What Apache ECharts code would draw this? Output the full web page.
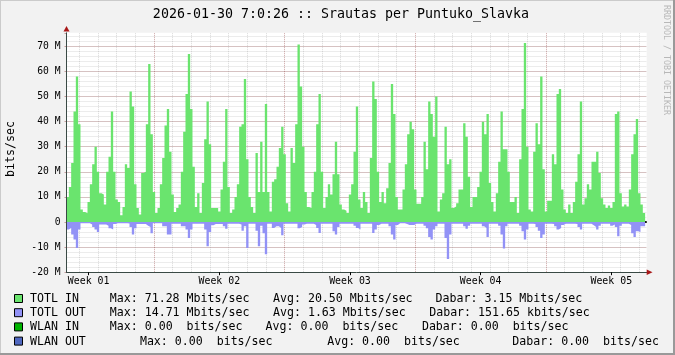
<!DOCTYPE html>
<html><head><meta charset="utf-8">
<script src="https://cdn.jsdelivr.net/npm/echarts@6/dist/echarts.min.js"></script>
<style>html,body{margin:0;padding:0;background:#f2f2f2}#c{width:675px;height:355px}</style>
</head><body><div id="c"></div>
<script>
// ---- data (Mbit/s), one value per 3-hour step from the left edge of the plot ----
const STEP_HOURS = 3;
const totlIn = [
 10,14,23.5,44,58,39,5,4, 3.5,8,15,23,30,20,11.5,11, 7,20,26,44,20,9,8,2.7, 6,23,21.5,52,46,15,5.6,3,
 19.5,20,39,63,35,12,3.6,5.6, 15,25.5,38.5,45,28,11,4,5.6, 7,20,36,51,67,45,22,6, 11.5,3.6,15.5,33,48,31,
 5.6,5.6,5.6,4.2,13,24,45,14, 3.6,5,10,15,38,39,57,25, 10,6,3.6,27.5,12,32,12,47, 12,4.2,16,17,22,29.5,38,27,
 7.5,4.2,29.5,23.5,39,70.7,54,30, 12,6,5.6,12,20,39,51,20, 5.6,10,15,11,19,32,19,7, 5,4.5,3.6,11,15,28,46,
 9,5.6,12,8,3.6,25.5,56,49, 20,8,12,7.5,13.5,23.5,55,43, 10,5,5,13,23,35,40,37, 13,7.3,7.3,10,32,21,48,43,
 34,50,4.2,9,11.5,38,23,25, 5.6,6.2,7.5,13,13,39.4,34,18, 6,10,10,14,20,40,35,43, 15.5,8,4.2,11.5,24,44,29,
 29,20,8,8,10,3.6,25,45, 71.3,30,5,4.2,28,39.4,31,58, 21,4.2,8.5,8.5,27,23,51,53, 13,5,3.6,7,3.6,8,16,27,
 48,7,9.5,15,13,24,24,28, 19.5,9.5,7,5.6,6.6,5.6,8,43, 44,11.5,6.2,7,6.2,13,27,35, 41,11.5,7,3.6
];
const totlOut = [
 3,2.4,5,7,10.4,3,0.5,0.5, 0.5,0.5,1,2,3,4,1,1, 1,1.5,2.5,3,0.8,0.5,0.5,0.5, 0.5,0.5,0.6,2,5,2.5,0.8,0.8,
 0.8,0.8,1.5,2,4.5,0.5,0.5,0.5, 0.5,1.7,1.7,5,5,0.7,0.7,0.7, 0.7,1.7,1.7,3,6.4,3,0.7,0.7, 0.7,0.7,0.7,3,9.7,4,
 1.3,0.8,0.8,0.8,0.8,1.7,2.7,0.7, 0.7,0.7,0.7,0.7,1,3.5,1.7,10.4, 0.7,0.7,0.7,3.5,9.7,1.5,4.5,12.8, 0.7,0.7,2.4,1.7,1.7,2.4,5.3,0.7,
 0.7,0.7,0.7,0.7,0.7,2.5,2,1, 0.7,0.7,0.7,0.7,1.2,2.4,4.4,0.7, 0.7,0.7,0.7,0.7,3.7,5,2,0.7, 0.7,0.7,0.7,0.7,0.7,1.5,2.4,
 3,0.7,0.7,0.7,0.7,0.7,4.4,3, 1.2,0.7,0.7,0.7,0.7,1.7,5,7, 1.2,0.5,0.5,0.5,0.8,1.2,1.2,1.2, 0.7,0.7,0.7,0.7,1.5,2.5,6,7,
 3,1.7,0.7,0.7,0.7,6.4,14.7,5, 0.7,0.7,0.7,0.7,0.7,1.7,2.7,1.5, 0.7,0.7,0.7,0.7,0.7,1.7,2.4,6, 0.7,0.7,0.7,0.7,1.5,5,10.6,
 1.7,0.7,0.7,0.7,0.7,0.7,1.5,3.7, 7,3,0.7,0.7,0.8,2,3.5,6.4, 5,0.7,0.7,0.7,0.8,1.7,3,2.4, 1.2,0.7,0.7,0.7,0.7,0.7,0.8,2,
 3,0.7,0.7,0.7,0.7,1.3,2,3, 1.5,0.7,0.7,0.7,0.7,1.5,1,2, 5.7,1.5,0.7,0.7,0.7,1.2,4.5,6, 3.7,4,1.7,1.7
];
const weekLabels = ['Week 01','Week 02','Week 03','Week 04','Week 05'];
const titleText = '2026-01-30 7:0:26 :: Srautas per Puntuko_Slavka';
const yAxisName = 'bits/sec';
const watermark = 'RRDTOOL / TOBI OETIKER';
const legendNames = ['TOTL IN','TOTL OUT','WLAN IN','WLAN OUT'];
const legendMax = ['Max: 71.28 Mbits/sec','Max: 14.71 Mbits/sec','Max: 0.00  bits/sec','Max: 0.00  bits/sec'];
const legendAvg = ['Avg: 20.50 Mbits/sec','Avg: 1.63 Mbits/sec','Avg: 0.00  bits/sec','Avg: 0.00  bits/sec'];
const legendNow = ['Dabar: 3.15 Mbits/sec','Dabar: 151.65 kbits/sec','Dabar: 0.00  bits/sec','Dabar: 0.00  bits/sec'];

// ---- layout / style ----
const COLORS = ['#6ae46e','#9292f6','#00b400','#5068c0'];
const GL = 66.5, GT = 32.8, GW = 580.2, GH = 239.4;
const Y_MIN = -20, Y_MAX = 75.4, X_MAX = 746;
const FIRST_MIDNIGHT = 16.46; // hours from plot start to first day line
const MONO = '"DejaVu Sans Mono", monospace';
const MINOR = 'rgba(140,140,140,0.33)';
const MAJOR = 'rgba(130,30,30,0.40)';
const AXIS = '#3a4a45';

const dayLines = [], weekLines = [];
for (let n = 0; FIRST_MIDNIGHT + 24 * n < X_MAX; n++) {
  const t = FIRST_MIDNIGHT + 24 * n;
  if (n >= 4 && (n - 4) % 7 === 0) weekLines.push(t); else dayLines.push(t);
}
const weekCenters = weekLabels.map((_, m) => FIRST_MIDNIGHT + 24 * (4 + 7 * m) - 84);

function stepData(vals, sign) {
  const d = vals.map((v, i) => [i * STEP_HOURS, sign * v]);
  d.push([vals.length * STEP_HOURS, sign * vals[vals.length - 1]]);
  return d;
}

const legendX = [[30,109.8,273,435.6],[30,109.8,273,429.2],[30,109.8,265.6,421.9],[30,139.9,327.2,512.3]];
const legendY = [299, 313.2, 327.4, 341.6];

const graphics = [];
graphics.push({type:'rect', shape:{x:0,y:0,width:675,height:1}, style:{fill:'#cbcbcb'}, silent:true});
graphics.push({type:'rect', shape:{x:0,y:0,width:1,height:355}, style:{fill:'#cbcbcb'}, silent:true});
graphics.push({type:'rect', shape:{x:673,y:0,width:2,height:355}, style:{fill:'#999999'}, silent:true});
graphics.push({type:'rect', shape:{x:0,y:353,width:675,height:2}, style:{fill:'#999999'}, silent:true});
graphics.push({type:'text', x:341, y:15, style:{text:titleText, font:'13.3px '+MONO, fill:'#000', align:'center', verticalAlign:'middle'}, silent:true});
graphics.push({type:'text', x:666, y:5, rotation:-Math.PI/2, style:{text:watermark, font:'8.3px '+MONO, fill:'#b8b8b8', align:'left', verticalAlign:'middle'}, silent:true});
graphics.push({type:'text', x:11, y:149, rotation:Math.PI/2, style:{text:yAxisName, font:'11.6px '+MONO, fill:'#000', align:'center', verticalAlign:'middle'}, silent:true});
graphics.push({type:'polygon', z:100, zlevel:2, shape:{points:[[63.5,31.5],[69.5,31.5],[66.5,26]]}, style:{fill:'#a81818'}, silent:true});
graphics.push({type:'polygon', z:100, zlevel:2, shape:{points:[[646.7,269.5],[646.7,275],[652.5,272.2]]}, style:{fill:'#a81818'}, silent:true});
legendNames.forEach((name, i) => {
  graphics.push({type:'rect', shape:{x:14.5,y:legendY[i]-4.5,width:8,height:8}, style:{fill:COLORS[i], stroke:'#000', lineWidth:1}, silent:true});
  [name, legendMax[i], legendAvg[i], legendNow[i]].forEach((s, j) => {
    graphics.push({type:'text', x:legendX[i][j], y:legendY[i], style:{text:s, font:'11.6px '+MONO, fill:'#000', align:'left', verticalAlign:'middle'}, silent:true});
  });
});

const gridMarks = dayLines.map(t => ({xAxis:t, lineStyle:{color:MINOR, type:[1,1], width:1}}))
  .concat(weekLines.map(t => ({xAxis:t, lineStyle:{color:MAJOR, type:[1,1], width:1}})));

const chart = echarts.init(document.getElementById('c'), null, {renderer:'canvas', width:675, height:355});
chart.setOption({
  animation:false,
  backgroundColor:'#f2f2f2',
  textStyle:{fontFamily:MONO},
  grid:{left:GL, top:GT, width:GW, height:GH, show:true, backgroundColor:'#ffffff', borderWidth:0},
  xAxis:{type:'value', min:0, max:X_MAX, zlevel:2,
    axisLine:{show:true, onZero:false, lineStyle:{color:AXIS, width:1}},
    axisTick:{show:true, customValues:weekCenters, length:3, lineStyle:{color:'#000'}},
    axisLabel:{show:true, customValues:weekCenters, margin:4, color:'#000', fontFamily:MONO, fontSize:9.9,
      formatter:(v)=>{ let b=0; weekCenters.forEach((c,i)=>{ if (Math.abs(c-v)<Math.abs(weekCenters[b]-v)) b=i; }); return weekLabels[b]; }},
    splitLine:{show:false}},
  yAxis:[
    {type:'value', min:Y_MIN, max:Y_MAX, interval:10, zlevel:0, z:1,
      axisLine:{show:false},
      axisTick:{show:true, length:2, lineStyle:{color:MAJOR}},
      axisLabel:{margin:6, color:'#000', fontFamily:MONO, fontSize:9.7,
        formatter:(v)=> Math.abs(v - Math.round(v/10)*10) > 0.01 ? '' : (v === 0 ? '0' : v + ' M')},
      splitLine:{show:true, showMinLine:false, showMaxLine:false, lineStyle:{color:MAJOR, type:[1,1], width:1}}},
    {type:'value', min:Y_MIN, max:Y_MAX, interval:2, zlevel:0, z:0,
      axisLine:{show:false}, axisTick:{show:false}, axisLabel:{show:false},
      splitLine:{show:true, showMinLine:false, showMaxLine:false, lineStyle:{color:MINOR, type:[1,1], width:1}}},
    {type:'value', min:Y_MIN, max:Y_MAX, zlevel:2, position:'left', offset:0,
      axisLine:{show:true, onZero:false, lineStyle:{color:AXIS, width:1}},
      axisTick:{show:false}, axisLabel:{show:false}, splitLine:{show:false}}
  ],
  graphic:graphics,
  series:[
    {type:'line', name:'grid', data:[[0,0]], symbol:'none', silent:true, zlevel:0, z:1,
      lineStyle:{opacity:0, width:0},
      markLine:{silent:true, symbol:['none','none'], label:{show:false}, animation:false, data:gridMarks}},
    {type:'line', name:legendNames[0], data:stepData(totlIn, 1), step:'end', symbol:'none', zlevel:1, z:3,
      lineStyle:{width:0}, areaStyle:{color:COLORS[0], opacity:1},
      markLine:{silent:true, symbol:['none','none'], label:{show:false}, animation:false,
        data:[{yAxis:0, lineStyle:{color:'#000', width:2, type:'solid'}}]}},
    {type:'line', name:legendNames[1], data:stepData(totlOut, -1), step:'end', symbol:'none', zlevel:1, z:2,
      lineStyle:{width:0}, areaStyle:{color:COLORS[1], opacity:1}}
  ]
});
</script></body></html>
